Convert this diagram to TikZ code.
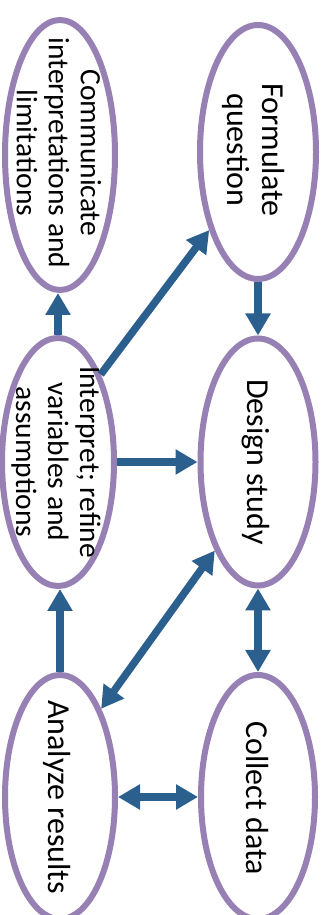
\documentclass[tikz,border=0pt]{standalone}
\usepackage{fontspec}
\setmainfont{Carlito}
\usetikzlibrary{shapes.geometric,arrows.meta}
\definecolor{ringpurple}{RGB}{151,128,180}
\definecolor{arrowblue}{RGB}{43,95,142}
\tikzset{
  ring/.style={ellipse, draw=ringpurple, line width=6pt, fill=white, inner sep=0pt},
  lab/.style={rotate=-90, align=center, inner sep=0pt, text=black},
  big/.style={font=\fontsize{32}{35}\selectfont},
  small/.style={font=\fontsize{29.5}{32}\selectfont},
  arr/.style={draw=arrowblue, line width=7.5pt, -{Triangle[length=22pt,width=24pt]}},
  darr/.style={draw=arrowblue, line width=7.5pt, {Triangle[length=22pt,width=24pt]}-{Triangle[length=22pt,width=24pt]}}
}
\begin{document}
\begin{tikzpicture}[x=1pt,y=1pt]
\useasboundingbox (0,0) rectangle (330,915);
\clip (0,0) rectangle (330,915);
\node[ring, minimum width=110pt, minimum height=270pt] (comm) at (60,760) {};
\node[ring, minimum width=116pt, minimum height=254pt] (form) at (258,763) {};
\node[ring, minimum width=112pt, minimum height=248pt] (interp) at (58,453) {};
\node[ring, minimum width=115pt, minimum height=247pt] (design) at (258,453) {};
\node[ring, minimum width=110pt, minimum height=244pt] (analyze) at (60,118) {};
\node[ring, minimum width=114pt, minimum height=244pt] (collect) at (258,118) {};

\node[lab, small] (commT) at (59,762) {Communicate\\interpretations and\\limitations};
\node[lab, big] (formT) at (254,765) {Formulate\\question};
\node[lab, small] (interpT) at (56,453) {Interpret; refine\\variables and\\assumptions};
\node[lab, big] (designT) at (256,453) {Design study};
\node[lab, big] (analyzeT) at (57,118) {Analyze results};
\node[lab, big] (collectT) at (257,117) {Collect data};

\draw[arr] (interp.north) -- (interp.north |- comm.south);
\draw[arr] (interp.64.7) -- (form.238);
\draw[arr] (form.south) -- (form.south |- design.north);
\draw[arr] (interp.east) -- (design.west);
\draw[darr] (design.244.7) -- (analyze.65.8);
\draw[darr] (design.south) -- (design.south |- collect.north);
\draw[darr] (analyze.east) -- (collect.west);
\draw[arr] (analyze.north) -- (analyze.north |- interp.south);
\end{tikzpicture}
\end{document}
